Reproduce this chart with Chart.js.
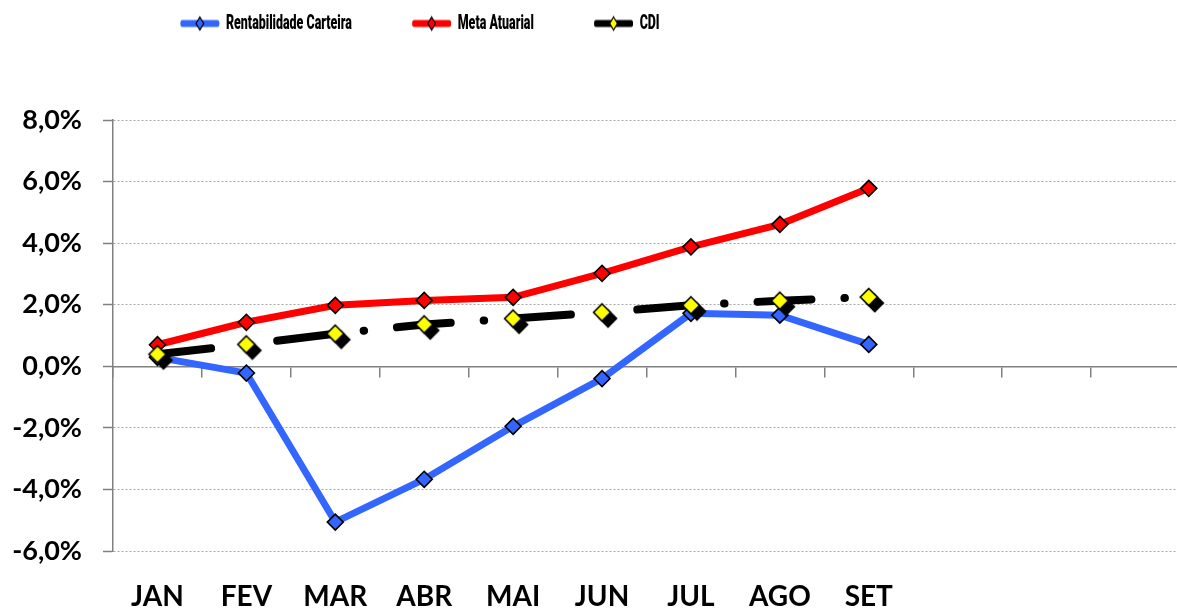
<!DOCTYPE html>
<html><head><meta charset="utf-8">
<script src="https://cdn.jsdelivr.net/npm/chart.js@4"></script>
<style>html,body{margin:0;padding:0;overflow:hidden;background:#fff}#wrap{position:relative;width:1197px;height:609px}</style>
</head><body><div id="wrap"><canvas id="c"></canvas></div>
<script>
const months = ['JAN','FEV','MAR','ABR','MAI','JUN','JUL','AGO','SET','','',''];
const seriesNames = ['Rentabilidade Carteira','Meta Atuarial','CDI'];
const carteira = [0.29, -0.22, -5.06, -3.67, -1.95, -0.40, 1.72, 1.66, 0.71];
const metaAtuarial = [0.70, 1.43, 1.98, 2.14, 2.24, 3.02, 3.88, 4.61, 5.78];
const cdi = [0.39, 0.71, 1.06, 1.36, 1.55, 1.75, 1.98, 2.13, 2.25];
const yMin = -6, yMax = 8, yStep = 2;

const LEG_SIZE = 21, LEG_FAMILY = 'Roboto', LEG_WEIGHT = '900';
const mc = document.createElement('canvas').getContext('2d');
mc.font = LEG_WEIGHT + ' ' + LEG_SIZE + 'px ' + LEG_FAMILY;
const S = 126 / mc.measureText(seriesNames[0]).width;
const ICON_W = Math.round(40 / S);

function diamond(g,x,y,rx,ry,fill){g.beginPath();g.moveTo(x,y-ry);g.lineTo(x+rx,y);g.lineTo(x,y+ry);g.lineTo(x-rx,y);g.closePath();g.fillStyle=fill;g.fill();g.lineWidth=1.6;g.strokeStyle='#000';g.stroke();}
function legendIcon(lineColor, fill){const c=document.createElement('canvas');c.width=ICON_W;c.height=18;const g=c.getContext('2d');g.strokeStyle=lineColor;g.lineWidth=7;g.lineCap='round';g.beginPath();g.moveTo(4,9);g.lineTo(ICON_W-4,9);g.stroke();g.save();diamond(g,ICON_W/2,9,6.5,6.5,fill);g.restore();return c;}
function cdiPoint(){const c=document.createElement('canvas');c.width=38;c.height=38;const g=c.getContext('2d');diamond(g,25,25,8.5,8.5,'#000');diamond(g,19,19,8.5,8.5,'#FFFF00');return c;}
const icons=[legendIcon('#3366FF','#3366FF'),legendIcon('#FF0000','#FF0000'),legendIcon('#000000','#FFFF00')];

const LEG_X0 = 180;
const legendPlace={id:'legendPlace',
  beforeLayout(chart){const lg=chart.legend;if(lg&&!lg._patched){
    const fit=lg.fit;lg.fit=function(){fit.call(this);this.height=120;};
    const draw=lg.draw;lg.draw=function(){const ctx=this.ctx;ctx.save();ctx.translate(LEG_X0,0);ctx.scale(S,1);ctx.translate(-LEG_X0,0);draw.apply(this,arguments);ctx.restore();};
    lg._patched=true;}},
  afterLayout(chart){const lg=chart.legend;const pad=lg.options.labels.padding;lg.left=LEG_X0-pad;lg.top=13-pad;}
};

new Chart(document.getElementById('c'),{
  type:'line',
  data:{labels:months,datasets:[
    {label:seriesNames[0],data:carteira,borderColor:'#3366FF',borderWidth:7,tension:0,pointStyle:'rectRot',pointRadius:8,pointBackgroundColor:'#3366FF',pointBorderColor:'#000',pointBorderWidth:1.6,order:2},
    {label:seriesNames[1],data:metaAtuarial,borderColor:'#FF0000',borderWidth:7,tension:0,pointStyle:'rectRot',pointRadius:8,pointBackgroundColor:'#FF0000',pointBorderColor:'#000',pointBorderWidth:1.6,order:3},
    {label:seriesNames[2],data:cdi,borderColor:'#000',borderWidth:8,tension:0,borderDash:[54,33,0.5,33],borderCapStyle:'round',pointStyle:cdiPoint(),pointRadius:9,order:1}
  ]},
  options:{
    responsive:true,maintainAspectRatio:false,animation:false,
    layout:{padding:0},
    plugins:{
      tooltip:{enabled:false},
      legend:{position:'top',align:'start',
        labels:{usePointStyle:true,pointStyleWidth:ICON_W,padding:Math.round(60/S),color:'#000',
          font:{family:LEG_FAMILY,weight:LEG_WEIGHT,size:LEG_SIZE},
          generateLabels(chart){return chart.data.datasets.map((ds,i)=>({text:ds.label,pointStyle:icons[i],datasetIndex:i,hidden:false,fontColor:'#000',lineWidth:0,strokeStyle:'rgba(0,0,0,0)',fillStyle:'rgba(0,0,0,0)'}));}
        }}
    },
    scales:{
      y:{min:yMin,max:yMax,
        ticks:{stepSize:yStep,padding:21,color:'#000',font:{family:'Lato',weight:'bold',size:27},callback:v=>v.toFixed(1).replace('.',',')+'%'},
        grid:{color:'#a6a6a6',lineWidth:1,tickLength:10,tickColor:'#808080',tickWidth:1.5,tickBorderDash:[]},
        border:{color:'#808080',width:1.5,dash:[2,2]},
        afterFit(s){s.width=113;}
      },
      x:{position:'bottom',offset:true,
        grid:{display:false,drawTicks:false},border:{display:false},
        ticks:{padding:29,color:'#000',font:{family:'Lato',weight:'bold',size:28},autoSkip:false,maxRotation:0},
        afterFit(s){s.height=58;}
      },
      x2:{type:'category',axis:'x',position:{y:0},offset:true,
        grid:{offset:true,drawOnChartArea:false,drawTicks:true,tickLength:10,color:'#808080',tickColor:'#808080',lineWidth:1.5,tickWidth:1.5},
        border:{display:true,color:'#808080',width:1.5},
        ticks:{display:false}
      }
    }
  },
  plugins:[legendPlace]
});
</script></body></html>
